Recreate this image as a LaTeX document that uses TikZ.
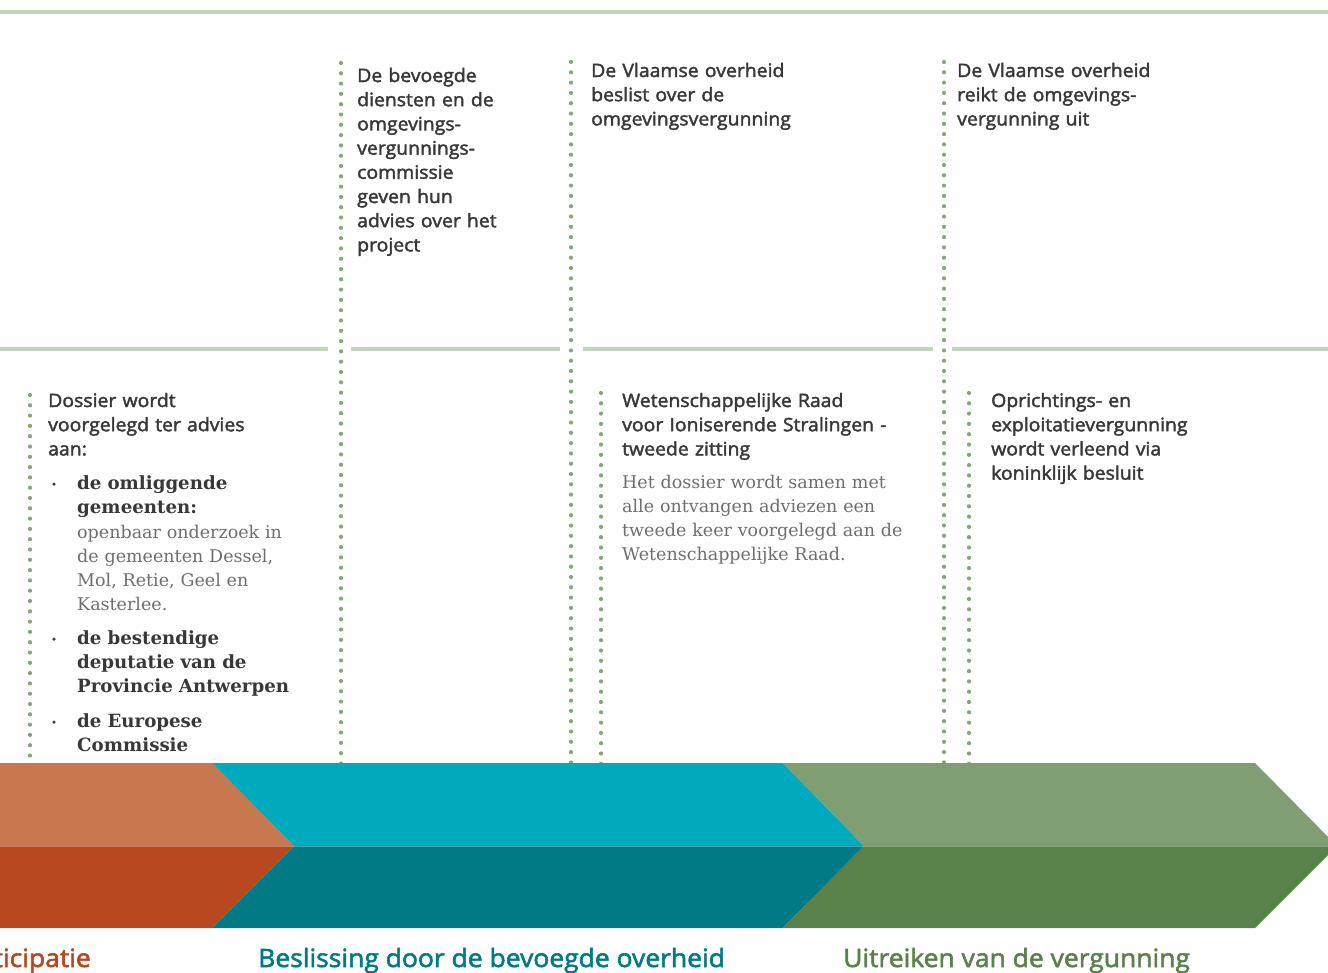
\documentclass[tikz,border=0pt]{standalone}
\usepackage{fontspec}
\setmainfont[FakeStretch=1.05, FakeBold=2.2]{Open Sans}
\newfontfamily\slabfont{DejaVu Serif}
\usepackage{tikz}
\usetikzlibrary{positioning}

\definecolor{rulegreen}{HTML}{C4D4BD}
\definecolor{dotgreen}{HTML}{84A679}
\definecolor{txtdark}{HTML}{383838}
\definecolor{txtlight}{HTML}{6E6E6E}
\definecolor{orangeL}{HTML}{C8784F}
\definecolor{orangeD}{HTML}{B5481E}
\definecolor{tealL}{HTML}{00AABD}
\definecolor{tealD}{HTML}{007A85}
\definecolor{greenL}{HTML}{7F9E74}
\definecolor{greenD}{HTML}{59814A}

\tikzset{
  hrule/.style={rulegreen, line width=4pt},
  dotline/.style={dotgreen, line width=4.2pt, line cap=round, dash pattern=on 0pt off 10.3pt},
  stepnote/.style={anchor=base west, inner sep=0pt, text width=330pt, align=left,
    text=txtdark, font=\fontsize{18.5}{24.2}\selectfont},
  itemnote/.style={stepnote, font=\slabfont\bfseries\fontsize{18.2}{24.2}\selectfont},
  detailnote/.style={stepnote, text=txtlight, font=\slabfont\fontsize{17.5}{24.2}\selectfont},
  bulletdot/.style={circle, fill=txtdark, inner sep=0pt, minimum size=3.5pt},
  phase/.style={inner sep=0pt, font=\fontsize{25.2}{30}\selectfont},
}

\begin{document}
\begin{tikzpicture}[x=1pt, y=-1pt]
    \useasboundingbox (0,0) rectangle (1328,972);
    % Rules
    \draw[hrule] (0,12) -- (1328,12);
    \draw[hrule] (0,349) -- (328,349);
    \draw[hrule] (351,349) -- (560,349);
    \draw[hrule] (583,349) -- (933,349);
    \draw[hrule] (952,349) -- (1328,349);
    % Dotted markers
    \foreach \x/\top in {341/63, 571/62, 944/62, 30/395, 601/393, 969/393}
        \draw[dotline] (\x,\top) -- (\x,764);
    % Phase bands
    \fill[orangeL] (-2,763) -- (212,763) -- (294,846) -- (-2,846) -- cycle;
    \fill[orangeD] (-2,846) -- (294,846) -- (212,928) -- (-2,928) -- cycle;
    \fill[tealL] (212,763) -- (783,763) -- (864,846) -- (294,846) -- cycle;
    \fill[tealD] (294,846) -- (864,846) -- (783,928) -- (212,928) -- cycle;
    \fill[greenL] (783,763) -- (1255,763) -- (1337,846) -- (864,846) -- cycle;
    \fill[greenD] (864,846) -- (1337,846) -- (1255,928) -- (783,928) -- cycle;
    \draw[white, opacity=0.3, line width=1pt] (-2,846) -- (1337,846);
    % Upper notes
    \node[stepnote] (advies) at (357,82) {De bevoegde\\diensten en de\\omgevings-\\vergunnings-\\commissie\\geven hun\\advies over het\\project};
    \node[stepnote] (beslist) at (591,77) {De Vlaamse overheid\\beslist over de\\omgevingsvergunning};
    \node[stepnote] (reikt) at (957,77) {De Vlaamse overheid\\reikt de omgevings-\\vergunning uit};
    % Lower notes
    \node[stepnote] (dossier) at (48,407) {Dossier wordt\\voorgelegd ter advies\\aan:};
    \node[bulletdot] (b1) at (54,484) {};
    \node[itemnote] (gemeenten) at (77,489) {de omliggende\\gemeenten:};
    \node[detailnote] (onderzoek) at (77,538) {openbaar onderzoek in\\de gemeenten Dessel,\\Mol, Retie, Geel en\\Kasterlee.};
    \node[bulletdot] (b2) at (54,639) {};
    \node[itemnote] (deputatie) at (77,644) {de bestendige\\deputatie van de\\Provincie Antwerpen};
    \node[bulletdot] (b3) at (54,722) {};
    \node[itemnote] (commissie) at (77,727) {de Europese\\Commissie};
    \node[stepnote] (raad) at (622,407) {Wetenschappelijke Raad\\voor Ioniserende Stralingen -\\tweede zitting};
    \node[detailnote] (zitting) at (622,488) {Het dossier wordt samen met\\alle ontvangen adviezen een\\tweede keer voorgelegd aan de\\Wetenschappelijke Raad.};
    \node[stepnote] (besluit) at (991,407) {Oprichtings- en\\exploitatievergunning\\wordt verleend via\\koninklijk besluit};
    % Phase labels
    \node[phase, anchor=base east, text=orangeD] (participatie) at (91,967) {Participatie};
    \node[phase, anchor=base west, text=tealD] (beslissing) at (258,967) {Beslissing door de bevoegde overheid};
    \node[phase, anchor=base west, text=greenD] (uitreiken) at (843,967) {Uitreiken van de vergunning};
\end{tikzpicture}
\end{document}
